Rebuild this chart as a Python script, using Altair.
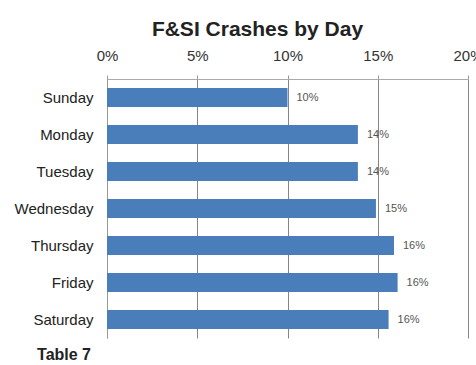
import altair as alt
import pandas as pd

days = ["Sunday", "Monday", "Tuesday", "Wednesday", "Thursday", "Friday", "Saturday"]
shares = [0.100, 0.139, 0.139, 0.149, 0.159, 0.161, 0.156]
share_labels = ["10%", "14%", "14%", "15%", "16%", "16%", "16%"]
tick_values = [0, 0.05, 0.10, 0.15, 0.20]
title_text = "F&SI Crashes by Day"
footer_text = ["Table 7"]

df = pd.DataFrame({"day": days, "share": shares, "label": share_labels})
font = "Liberation Sans, Arial, sans-serif"

y_enc = alt.Y(
    "day:N",
    sort=days,
    scale=alt.Scale(paddingInner=0.49, paddingOuter=0.245),
    axis=alt.Axis(
        title=None,
        ticks=False,
        labelPadding=14,
        labelFontSize=15,
        labelColor="#222",
        labelFont=font,
        domainColor="#999",
        grid=False,
    ),
)

x_enc = alt.X(
    "share:Q",
    scale=alt.Scale(domain=[0, 0.2], nice=False),
    axis=alt.Axis(
        orient="top",
        title=None,
        format=".0%",
        values=tick_values,
        labelFontSize=15,
        labelColor="#333",
        labelFont=font,
        labelPadding=12,
        labelFlush=False,
        labelOverlap=False,
        tickSize=4,
        tickColor="#999",
        domainColor="#aaa",
        grid=True,
        gridColor="#858585",
        gridWidth=1,
    ),
)

base = alt.Chart(df)
bars = base.mark_bar(color="#4A7EBB").encode(x=x_enc, y=y_enc)
texts = base.mark_text(align="left", baseline="middle", dx=9, fontSize=11,
                       color="#555", font=font).encode(
    x=alt.X("share:Q"), y=alt.Y("day:N", sort=days), text="label:N")

footer = alt.Chart(pd.DataFrame({"t": footer_text})).mark_text(
    align="right", baseline="alphabetic", fontSize=16, fontWeight="bold",
    color="#222", font=font).encode(
    x=alt.value(-16), y=alt.value(281), text="t:N")

chart = alt.layer(bars, texts, footer).properties(
    width=361,
    height=259,
    autosize=alt.AutoSizeParams(type="none"),
    padding={"left": 107, "top": 79, "right": 8, "bottom": 27},
    background="white",
    title=alt.TitleParams(title_text, fontSize=21, fontWeight="bold", color="#222",
                          font=font, anchor="middle", dx=-30, offset=8),
).configure_view(stroke=None)

chart.save("out.html", embed_options={"renderer": "svg", "actions": False})
